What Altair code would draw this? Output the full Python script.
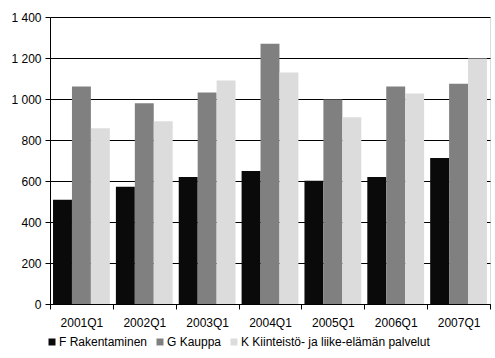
import altair as alt
import pandas as pd

quarters = ["2001Q1", "2002Q1", "2003Q1", "2004Q1", "2005Q1", "2006Q1", "2007Q1"]
series = ["F Rakentaminen", "G Kauppa", "K Kiinteistö- ja liike-elämän palvelut"]
f_vals = [508, 572, 620, 649, 601, 620, 712]
g_vals = [1061, 979, 1032, 1269, 998, 1061, 1075]
k_vals = [857, 891, 1090, 1129, 911, 1027, 1197]
colors = ["#0a0a0a", "#808080", "#dcdcdc"]

rows = []
for i, q in enumerate(quarters):
    for s, vals in zip(series, [f_vals, g_vals, k_vals]):
        rows.append({"quarter": q, "series": s, "value": vals[i]})
df = pd.DataFrame(rows)

FONT = "Liberation Sans"

chart = alt.Chart(df).mark_bar().encode(
    x=alt.X("quarter:N", sort=quarters, title=None,
            scale=alt.Scale(paddingInner=0, paddingOuter=0),
            axis=alt.Axis(labelAngle=0, tickBand="extent", tickSize=5,
                          labelPadding=8, domainColor="#000000", tickColor="#000000",
                          labelColor="#000000", labelFont=FONT, labelFontSize=12,
                          grid=False)),
    xOffset=alt.XOffset("series:N", sort=series,
                        scale=alt.Scale(paddingInner=0, paddingOuter=0.16)),
    y=alt.Y("value:Q", title=None,
            scale=alt.Scale(domain=[0, 1400], nice=False),
            axis=alt.Axis(values=[0, 200, 400, 600, 800, 1000, 1200, 1400],
                          labelExpr="replace(format(datum.value, ','), ',', ' ')",
                          tickSize=5, labelPadding=4, domainColor="#000000",
                          tickColor="#000000", gridColor="#000000", gridOpacity=1,
                          gridWidth=1,
                          labelColor="#000000", labelFont=FONT, labelFontSize=12)),
    color=alt.Color("series:N", sort=series,
                    scale=alt.Scale(domain=series, range=colors),
                    legend=alt.Legend(title=None, orient="none", direction="horizontal",
                                      legendX=-4, legendY=319, symbolType="square",
                                      symbolSize=49, symbolStrokeWidth=0,
                                      symbolOpacity=1, labelOffset=1, columnPadding=6,
                                      labelLimit=400,
                                      labelFont=FONT, labelFontSize=12, labelColor="#000000")),
).properties(
    width=440, height=287,
    autosize=alt.AutoSizeParams(type="none"),
    padding={"left": 50, "top": 17, "right": 5, "bottom": 54},
).configure_view(stroke="#000000", strokeWidth=1).configure(background="white")

chart.save("out.html", embed_options={"renderer": "svg", "actions": False})
